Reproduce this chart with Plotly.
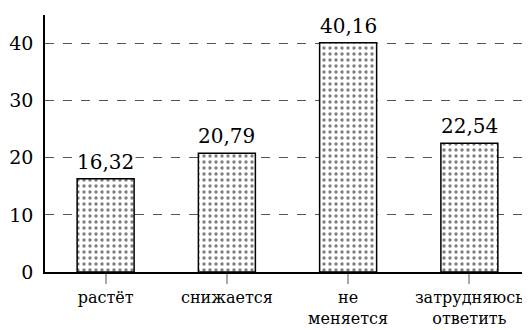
import plotly.graph_objects as go

categories = ["растёт", "снижается", "не<br>меняется", "затрудняюсь<br>ответить"]
values = [16.32, 20.79, 40.16, 22.54]
value_labels = ["16,32", "20,79", "40,16", "22,54"]
y_ticks = [0, 10, 20, 30, 40]

FONT = "DejaVu Serif"

fig = go.Figure(go.Bar(
    x=categories, y=values,
    cliponaxis=False,
    width=0.47,
    marker=dict(
        color="white",
        line=dict(color="black", width=1.5),
        pattern=dict(shape=".", fgcolor="black", bgcolor="white", size=6, solidity=0.25),
    ),
))

for c, v, t in zip(categories, values, value_labels):
    fig.add_annotation(x=c, y=v, text=t, showarrow=False, yanchor="bottom", yshift=3,
                       bgcolor="white", borderpad=1,
                       font=dict(family=FONT, size=20, color="black"))

fig.update_layout(
    width=522, height=322,
    margin=dict(l=37, r=0, t=7, b=58),
    plot_bgcolor="white", paper_bgcolor="white",
    showlegend=False,
    font=dict(family=FONT, color="black"),
    xaxis=dict(
        range=[-0.5, 3.5], automargin=False,
        showline=True, linecolor="black", linewidth=1.5,
        ticks="outside", tickcolor="#aaa", ticklen=10, tickwidth=1.5,
        tickfont=dict(family=FONT, size=16),
        showgrid=False,
    ),
    yaxis=dict(
        range=[0, 45], automargin=False,
        tickvals=y_ticks,
        showline=True, linecolor="black", linewidth=1.5,
        ticks="", ticklabelstandoff=6,
        tickfont=dict(family=FONT, size=19),
        showgrid=True, gridcolor="#555", griddash="dash", gridwidth=1,
        zeroline=False,
    ),
)

fig.write_html("out.html")
